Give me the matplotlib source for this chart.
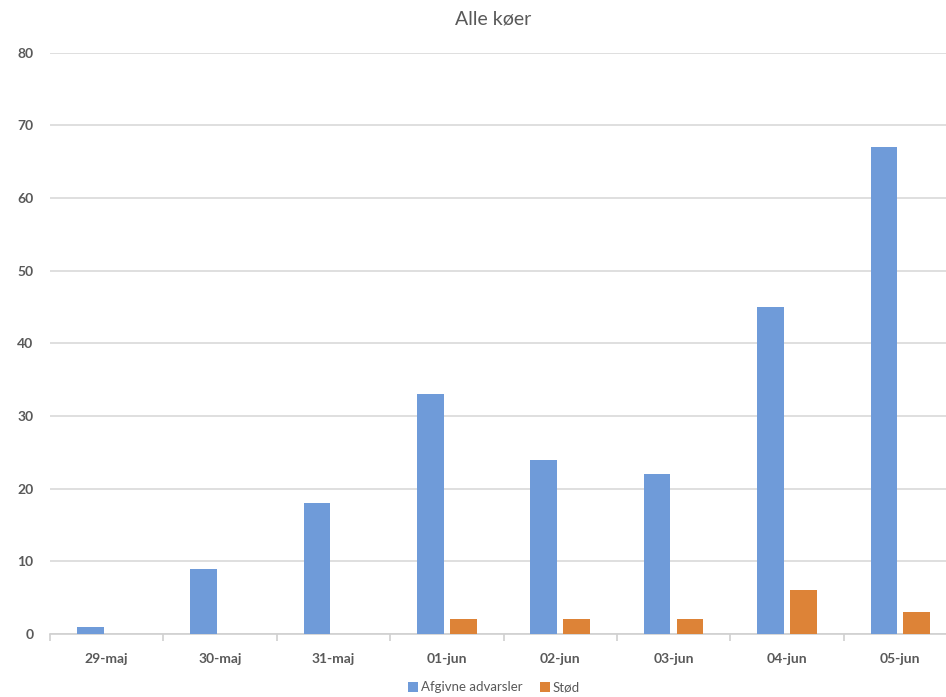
import matplotlib
matplotlib.use("Agg")
import matplotlib.pyplot as plt
import numpy as np

categories = ["29-maj", "30-maj", "31-maj", "01-jun", "02-jun", "03-jun", "04-jun", "05-jun"]
advarsler = [1, 9, 18, 33, 24, 22, 45, 67]
stod = [0, 0, 0, 2, 2, 2, 6, 3]
series_names = ["Afgivne advarsler", "Stød"]
y_ticks = [0, 10, 20, 30, 40, 50, 60, 70, 80]

plt.rcParams['font.family'] = ['Lato', 'DejaVu Sans']

fig = plt.figure(figsize=(9.46, 6.97), dpi=100)
ax = fig.add_axes([50 / 946, 0.0904, 907 / 946, 0.834])

x = np.arange(len(categories))
w = 0.235
off = 0.145
ax.bar(x - off, advarsler, width=w, color="#6f9bd9", label=series_names[0], zorder=3)
ax.bar(x + off, stod, width=w, color="#dd8337", label=series_names[1], zorder=3)

ax.set_xlim(-0.5, len(categories) - 0.5)
ax.set_ylim(0, 80)
ax.set_yticks(y_ticks)
ax.yaxis.grid(True, color="#d9d9d9", linewidth=1.2, zorder=0)
ax.set_axisbelow(True)

for s in ["left", "right", "top"]:
    ax.spines[s].set_visible(False)
ax.spines["bottom"].set_color("#d0d0d0")
ax.spines["bottom"].set_linewidth(1.2)

ax.set_xticks(x)
ax.set_xticklabels(categories)
ax.set_xticks(np.arange(-0.5, len(categories), 1.0), minor=True)
ax.tick_params(axis="x", which="major", length=0, pad=14, labelsize=10, labelcolor="#595959")
ax.tick_params(axis="x", which="minor", length=5, color="#d0d0d0", width=1.2)
ax.tick_params(axis="y", length=0, pad=12, labelsize=10, labelcolor="#595959")
for lbl in ax.get_xticklabels() + ax.get_yticklabels():
    lbl.set_fontweight("bold")

fig.text(0.521, 0.973, "Alle køer", ha="center", va="center", fontsize=14, color="#595959")

fig.legend(loc="lower center", bbox_to_anchor=(0.522, -0.012), ncol=2, frameon=False,
           fontsize=9.5, handlelength=0.8, handleheight=0.8, handletextpad=0.2,
           columnspacing=1.3, labelcolor="#595959")

fig.savefig("out.png", dpi=100)
